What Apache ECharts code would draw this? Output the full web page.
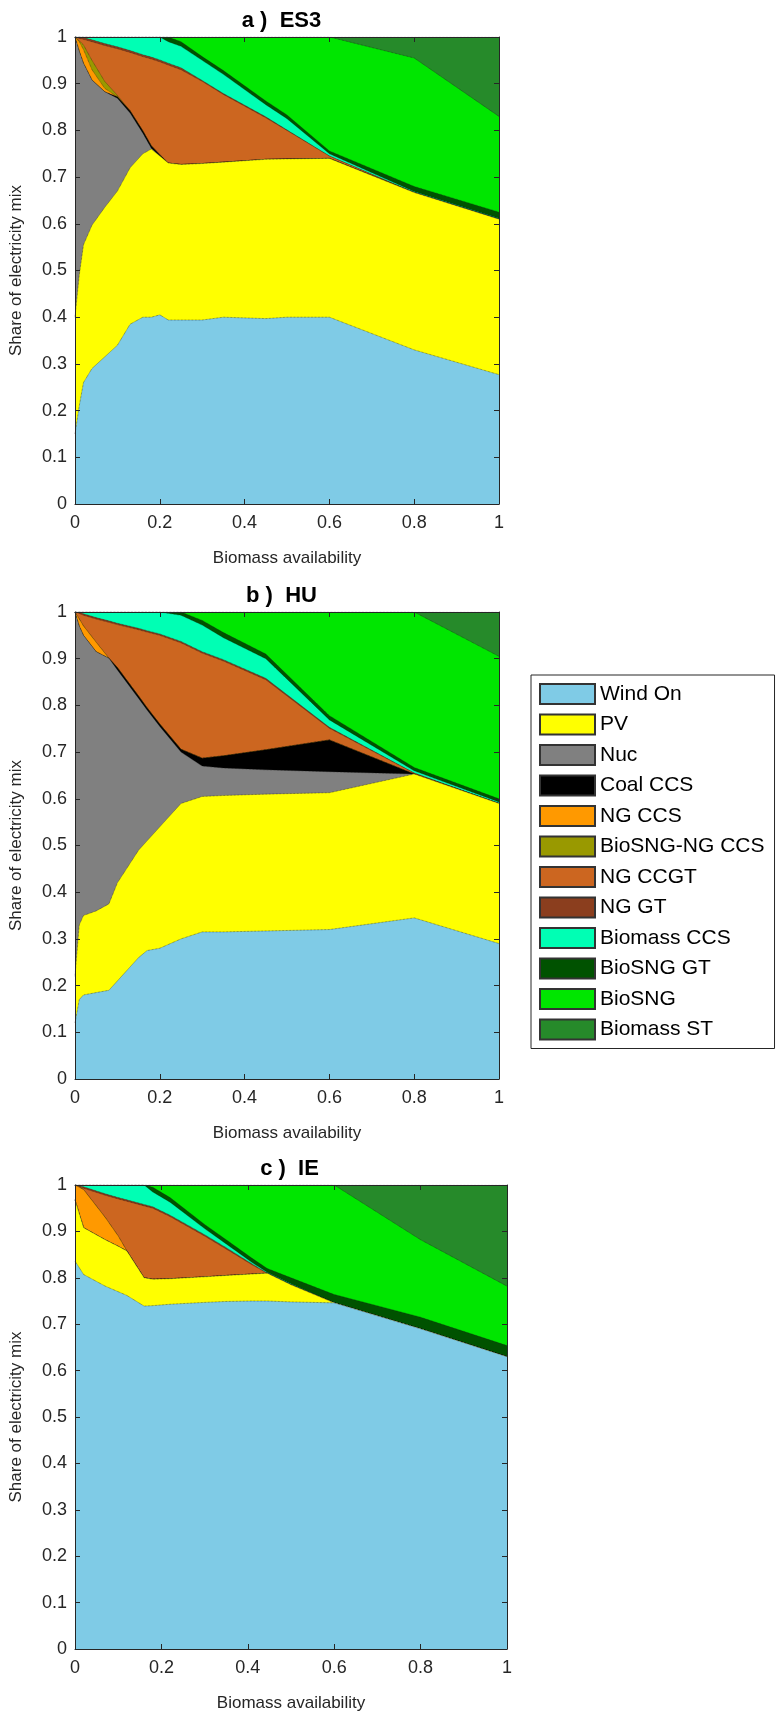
<!DOCTYPE html>
<html><head><meta charset="utf-8">
<script src="https://cdn.jsdelivr.net/npm/echarts@6/dist/echarts.min.js"></script>
<style>html,body{margin:0;padding:0;background:#fff}#c{width:779px;height:1713px}</style>
</head><body><div id="c"></div>
<script>
// Technology names and colours
const techs = ['Wind On','PV','Nuc','Coal CCS','NG CCS','BioSNG-NG CCS','NG CCGT','NG GT','Biomass CCS','BioSNG GT','BioSNG','Biomass ST'];
const colors = ['#7FCBE6','#FFFF00','#808080','#000000','#FF9900','#999900','#CC6620','#8B3E1E','#00FFB4','#005200','#00E600','#268A2A'];
const titles = ['a )  ES3','b )  HU','c )  IE'];
const yTicks = [0,0.1,0.2,0.3,0.4,0.5,0.6,0.7,0.8,0.9,1];

// ---- a) ES3 : x values and cumulative top boundary of each technology ----
const esX      = [0,0.01,0.02,0.04,0.07,0.1,0.13,0.16,0.18,0.2,0.22,0.25,0.3,0.35,0.45,0.5,0.6,0.8,1];
const esWind   = [0.15,0.21,0.26,0.29,0.315,0.34,0.385,0.40,0.40,0.405,0.394,0.394,0.394,0.40,0.397,0.40,0.40,0.33,0.277];
const esPV     = [0.40,0.49,0.555,0.597,0.635,0.67,0.72,0.75,0.76,0.745,0.73,0.727,0.729,0.732,0.738,0.739,0.74,0.667,0.61];
const esNuc    = [1.0,0.97,0.944,0.908,0.883,0.869,0.837,0.794,0.762,0.745,0.73,0.727,0.729,0.732,0.738,0.739,0.74,0.667,0.61];
const esCoal   = [1.0,0.97,0.944,0.908,0.883,0.872,0.842,0.799,0.767,0.748,0.73,0.727,0.729,0.732,0.738,0.739,0.74,0.667,0.61];
const esNGCCS  = [1.0,0.99,0.973,0.93,0.89,0.872,0.842,0.799,0.767,0.748,0.73,0.727,0.729,0.732,0.738,0.739,0.74,0.667,0.61];
const esBioNG  = [1.0,0.992,0.983,0.95,0.905,0.875,0.842,0.799,0.767,0.748,0.73,0.727,0.729,0.732,0.738,0.739,0.74,0.667,0.61];
const esCCGT   = [1.0,0.997,0.995,0.99,0.982,0.975,0.967,0.958,0.953,0.947,0.94,0.93,0.905,0.877,0.827,0.80,0.745,0.667,0.61];
const esGT     = [1.0,1.0,0.999,0.994,0.986,0.979,0.971,0.962,0.957,0.951,0.944,0.934,0.907,0.879,0.829,0.801,0.745,0.667,0.61];
const esBioCCS = [1,1,1,1,1,1,1,1,1,1,0.99,0.98,0.95,0.92,0.855,0.825,0.75,0.669,0.612];
const esSNGGT  = [1,1,1,1,1,1,1,1,1,1,1,0.99,0.958,0.928,0.863,0.833,0.756,0.68,0.625];
const esSNG    = [1,1,1,1,1,1,1,1,1,1,1,1,1,1,1,1,1,0.955,0.83];
const esST     = [1,1,1,1,1,1,1,1,1,1,1,1,1,1,1,1,1,1,1];

// ---- b) HU ----
const huX      = [0,0.01,0.02,0.05,0.08,0.1,0.15,0.17,0.2,0.25,0.3,0.35,0.45,0.6,0.8,1];
const huWind   = [0.12,0.17,0.18,0.185,0.19,0.21,0.26,0.275,0.28,0.30,0.315,0.315,0.317,0.32,0.345,0.29];
const huPV     = [0.22,0.33,0.35,0.36,0.375,0.42,0.49,0.51,0.54,0.59,0.605,0.607,0.61,0.613,0.653,0.59];
const huNuc    = [1.0,0.97,0.95,0.915,0.901,0.876,0.815,0.79,0.755,0.70,0.67,0.666,0.662,0.658,0.653,0.59];
const huCoal   = [1.0,0.97,0.95,0.915,0.901,0.881,0.82,0.795,0.76,0.706,0.687,0.692,0.705,0.726,0.653,0.59];
const huNGCCS  = [1.0,0.985,0.97,0.935,0.901,0.881,0.82,0.795,0.76,0.706,0.687,0.692,0.705,0.726,0.653,0.59];
const huBioNG  = [1.0,0.985,0.97,0.935,0.901,0.881,0.82,0.795,0.76,0.706,0.687,0.692,0.705,0.726,0.653,0.59];
const huCCGT   = [1.0,0.997,0.993,0.985,0.978,0.973,0.962,0.957,0.95,0.934,0.912,0.895,0.855,0.751,0.655,0.59];
const huGT     = [1.0,1.0,0.996,0.988,0.981,0.976,0.965,0.96,0.953,0.937,0.915,0.898,0.858,0.753,0.655,0.59];
const huBioCCS = [1,1,1,1,1,1,1,1,1,0.993,0.972,0.945,0.9,0.769,0.66,0.593];
const huSNGGT  = [1,1,1,1,1,1,1,1,1,1,0.982,0.956,0.91,0.778,0.667,0.60];
const huSNG    = [1,1,1,1,1,1,1,1,1,1,1,1,1,1,1,0.905];
const huST     = [1,1,1,1,1,1,1,1,1,1,1,1,1,1,1,1];

// ---- c) IE ----
const ieX      = [0,0.02,0.07,0.1,0.12,0.16,0.18,0.22,0.3,0.35,0.41,0.445,0.5,0.6,0.8,1];
const ieWind   = [0.836,0.807,0.782,0.77,0.762,0.739,0.74,0.743,0.747,0.749,0.75,0.75,0.748,0.746,0.69,0.63];
const iePV     = [0.968,0.908,0.882,0.868,0.858,0.80,0.797,0.798,0.802,0.805,0.808,0.81,0.785,0.746,0.69,0.63];
const ieNuc    = iePV;
const ieCoal   = iePV;
const ieNGCCS  = [1.0,0.99,0.93,0.89,0.858,0.80,0.797,0.798,0.802,0.805,0.808,0.81,0.785,0.746,0.69,0.63];
const ieBioNG  = ieNGCCS;
const ieCCGT   = [1.0,0.993,0.978,0.97,0.965,0.955,0.95,0.932,0.89,0.862,0.828,0.81,0.785,0.746,0.69,0.63];
const ieGT     = [1.0,0.996,0.981,0.973,0.968,0.958,0.953,0.935,0.893,0.865,0.83,0.81,0.785,0.746,0.69,0.63];
const ieBioCCS = [1,1,1,1,1,1,0.985,0.963,0.906,0.873,0.833,0.812,0.787,0.746,0.69,0.63];
const ieSNGGT  = [1,1,1,1,1,1,0.995,0.973,0.915,0.882,0.842,0.82,0.8,0.764,0.715,0.654];
const ieSNG    = [1,1,1,1,1,1,1,1,1,1,1,1,1,1,0.882,0.782];
const ieST     = [1,1,1,1,1,1,1,1,1,1,1,1,1,1,1,1];

const charts = [
  {x: esX, tops: [esWind,esPV,esNuc,esCoal,esNGCCS,esBioNG,esCCGT,esGT,esBioCCS,esSNGGT,esSNG,esST], left:66, top:37},
  {x: huX, tops: [huWind,huPV,huNuc,huCoal,huNGCCS,huBioNG,huCCGT,huGT,huBioCCS,huSNGGT,huSNG,huST], left:66, top:612},
  {x: ieX, tops: [ieWind,iePV,ieNuc,ieCoal,ieNGCCS,ieBioNG,ieCCGT,ieGT,ieBioCCS,ieSNGGT,ieSNG,ieST], left:74, top:1185}
];
const W = 433, H = 467;
const tickFont = 'Liberation Sans Narrow, Liberation Sans, Arial';
const grids = [], xAxes = [], yAxes = [], series = [], titleOpts = [];
charts.forEach((c, gi) => {
  grids.push({left:c.left, top:c.top, width:W, height:H, show:false});
  titleOpts.push({text:titles[gi], left:c.left + W/2 - 6, top:c.top - 32, textAlign:'center',
    textStyle:{fontSize:22, fontWeight:'bold', color:'#000', fontFamily:'Liberation Sans Narrow, Liberation Sans'}});
  const axLine = {show:true, onZero:false, lineStyle:{color:'#262626'}};
  const tick = {inside:true, length:5, lineStyle:{color:'#262626'}};
  xAxes.push({gridIndex:gi, type:'value', min:0, max:1, interval:0.2, position:'bottom', z:20,
    axisLine:axLine, axisTick:tick, splitLine:{show:false},
    axisLabel:{fontSize:18, color:'#262626', margin:10, fontFamily:tickFont},
    name:'Biomass availability', nameLocation:'middle', nameGap:46,
    nameTextStyle:{fontSize:17, color:'#262626', fontFamily:'Liberation Sans'}});
  xAxes.push({gridIndex:gi, type:'value', min:0, max:1, interval:0.2, position:'top', z:20,
    axisLine:axLine, axisTick:tick, axisLabel:{show:false}, splitLine:{show:false}});
  yAxes.push({gridIndex:gi, type:'value', min:0, max:1, interval:0.1, position:'left', z:20,
    axisLine:axLine, axisTick:tick, splitLine:{show:false},
    axisLabel:{fontSize:18, color:'#262626', margin:8, fontFamily:tickFont, formatter:v=>String(+v.toFixed(1))},
    name:'Share of electricity mix', nameLocation:'middle', nameGap:50,
    nameTextStyle:{fontSize:17, color:'#262626', fontFamily:'Liberation Sans'}});
  yAxes.push({gridIndex:gi, type:'value', min:0, max:1, interval:0.1, position:'right', z:20,
    axisLine:axLine, axisTick:tick, axisLabel:{show:false}, splitLine:{show:false}});
  // each layer drawn from its cumulative top down to 0; lower layers painted over upper ones
  c.tops.forEach((top, ti) => {
    const data = c.x.map((xv, i) => [xv, top[i]]);
    series.push({name:techs[ti], type:'line', xAxisIndex:gi*2, yAxisIndex:gi*2,
      data, symbol:'none', smooth:false, z: 2, zlevel:0, silent:true,
      lineStyle:{width:0.7, type:'dotted', color:'rgba(20,20,20,0.75)'},
      itemStyle:{color:colors[ti], borderColor:'#333', borderType:'dotted', borderWidth:1},
      areaStyle:{color:colors[ti], opacity:1, origin:'start'}});
  });
});
// paint order: top-most technology first, wind last
series.forEach((s, k) => { s.z = 2 + (techs.length - techs.indexOf(s.name)); });

const chart = echarts.init(document.getElementById('c'));
chart.setOption({
  animation:false,
  title:titleOpts,
  grid:grids, xAxis:xAxes, yAxis:yAxes, series,
  legend:{data:techs, orient:'vertical', left:531, top:675, icon:'rect', itemWidth:55, itemHeight:20,
    itemGap:8.5, itemTextGap:5, padding:[8,10,8,8], borderColor:'#262626', borderWidth:1, selectedMode:false,
    textStyle:{fontSize:21, color:'#000', fontFamily:'Liberation Sans, Arial'}}
});
</script></body></html>
